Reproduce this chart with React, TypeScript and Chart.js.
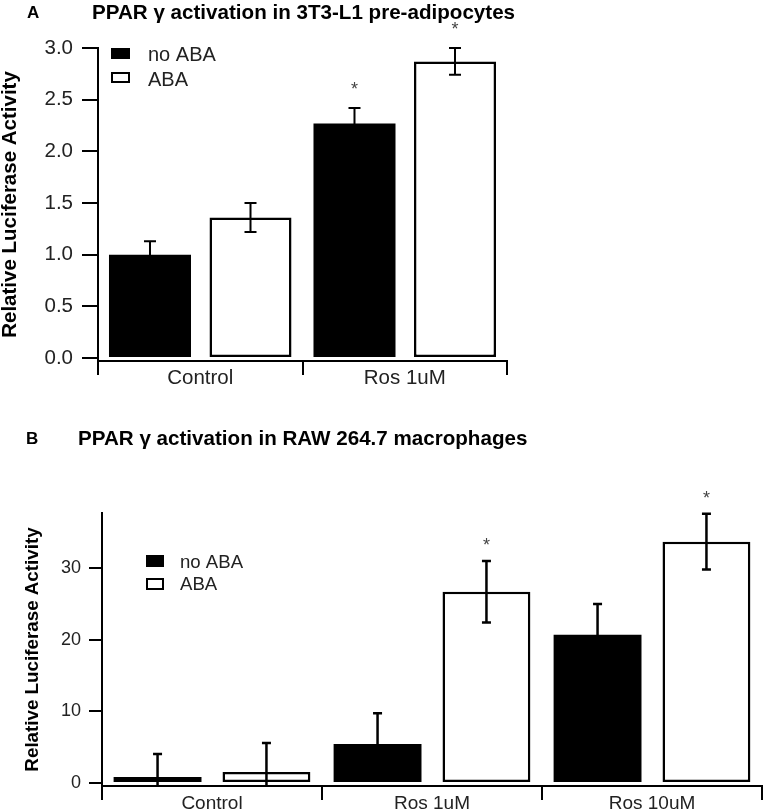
import React, { useEffect, useRef } from "react";
import { Chart, registerables } from "chart.js";

Chart.register(...registerables);

const FONT = "'Liberation Sans', Arial, Helvetica, sans-serif";

// ---------- Data: panel A (3T3-L1 pre-adipocytes) ----------
const seriesLabels = ["no ABA", "ABA"];
const categoriesA = ["Control", "Ros 1uM"];
const noAbaA = [1.0, 2.27];
const abaA = [1.36, 2.87];
const noAbaErrA = [0.13, 0.15];
const abaErrA = [0.14, 0.13];
const noAbaSigA = [false, true];
const abaSigA = [false, true];
const yTicksA = [0, 0.5, 1.0, 1.5, 2.0, 2.5, 3.0];

// ---------- Data: panel B (RAW 264.7 macrophages) ----------
const categoriesB = ["Control", "Ros 1uM", "Ros 10uM"];
const noAbaB = [0.84, 5.45, 20.7];
const abaB = [1.54, 26.7, 33.7];
const noAbaErrB = [3.2, 4.3, 4.3];
const abaErrB = [4.05, 4.3, 3.9];
const noAbaSigB = [false, false, false];
const abaSigB = [false, true, true];
const yTicksB = [0, 10, 20, 30];

const titleA = "PPAR \u03b3 activation in 3T3-L1 pre-adipocytes";
const titleB = "PPAR \u03b3 activation in RAW 264.7 macrophages";
const yTitle = "Relative Luciferase Activity";

type Panel = {
  letter: string;
  title: string;
  letterX: number;
  letterSize: number;
  titleX: number;
  titleY: number;
  titleSize: number;
  errors: number[][];
  sig: boolean[][];
  capWidth: number;
  errLineWidth: number;
  starOffset: number;
  starSize: number;
  legendBoxX: number;
  legendBoxW: number;
  legendBoxH: number;
  legendBoxTops: number[];
  legendTextX: number;
  legendTextYs: number[];
  legendSize: number;
};

function capText(ctx: CanvasRenderingContext2D, text: string, x: number, cy: number, size: number, weight: string, color: string) {
  ctx.font = `${weight} ${size}px ${FONT}`;
  ctx.fillStyle = color;
  ctx.textAlign = "left";
  ctx.textBaseline = "alphabetic";
  ctx.fillText(text, x, cy + (size * 0.716) / 2);
}

function makeOverlay(p: Panel) {
  return {
    id: "overlay",
    afterDatasetsDraw(chart: any) {
      const { ctx, chartArea } = chart;
      const yScale = chart.scales.y;
      ctx.save();
      ctx.beginPath();
      ctx.rect(0, 0, chart.width, chartArea.bottom);
      ctx.clip();
      ctx.strokeStyle = "#000";
      ctx.lineWidth = p.errLineWidth;
      ctx.lineCap = "butt";
      chart.data.datasets.forEach((ds: any, di: number) => {
        const meta = chart.getDatasetMeta(di);
        meta.data.forEach((bar: any, i: number) => {
          const v = ds.data[i];
          const e = p.errors[di][i];
          const x = bar.x;
          const yt = yScale.getPixelForValue(v + e);
          const yb = yScale.getPixelForValue(v - e);
          const h = p.capWidth / 2;
          ctx.beginPath();
          ctx.moveTo(x, yt);
          ctx.lineTo(x, yb);
          ctx.moveTo(x - h, yt);
          ctx.lineTo(x + h, yt);
          ctx.moveTo(x - h, yb);
          ctx.lineTo(x + h, yb);
          ctx.stroke();
        });
      });
      ctx.restore();

      ctx.save();
      ctx.fillStyle = "#444";
      ctx.font = `${p.starSize}px ${FONT}`;
      ctx.textAlign = "center";
      ctx.textBaseline = "alphabetic";
      chart.data.datasets.forEach((ds: any, di: number) => {
        const meta = chart.getDatasetMeta(di);
        meta.data.forEach((bar: any, i: number) => {
          if (!p.sig[di][i]) return;
          const yt = yScale.getPixelForValue(ds.data[i] + p.errors[di][i]);
          const cy = yt - p.starOffset;
          ctx.fillText("*", bar.x, cy + p.starSize * 0.57);
        });
      });
      ctx.restore();
    },
    afterDraw(chart: any) {
      const ctx: CanvasRenderingContext2D = chart.ctx;
      ctx.save();
      capText(ctx, p.letter, p.letterX, p.titleY, p.letterSize, "bold", "#000");
      capText(ctx, p.title, p.titleX, p.titleY, p.titleSize, "bold", "#000");
      chart.data.datasets.forEach((ds: any, di: number) => {
        const top = p.legendBoxTops[di];
        if (ds.backgroundColor === "#000") {
          ctx.fillStyle = "#000";
          ctx.fillRect(p.legendBoxX, top, p.legendBoxW, p.legendBoxH);
        } else {
          ctx.fillStyle = "#fff";
          ctx.fillRect(p.legendBoxX, top, p.legendBoxW, p.legendBoxH);
          ctx.strokeStyle = "#000";
          ctx.lineWidth = 2;
          ctx.strokeRect(p.legendBoxX + 1, top + 1, p.legendBoxW - 2, p.legendBoxH - 2);
        }
        capText(ctx, ds.label, p.legendTextX, p.legendTextYs[di], p.legendSize, "normal", "#222");
      });
      ctx.restore();
    },
  };
}

type AxisCfg = {
  min: number;
  max: number;
  ticks: number[];
  decimals: number;
  yWidth: number;
  xHeight: number;
  padding: { left: number; top: number; right: number; bottom: number };
  yTickLen: number;
  yTickPad: number;
  xTickLen: number;
  xTickPad: number;
  tickSize: number;
  catSize: number;
  yTitleSize: number;
  yTitlePad: number;
  catPct: number;
  barPct: number;
  lineWidth: number;
  barBorder: number;
};

function buildConfig(categories: string[], noAba: number[], aba: number[], a: AxisCfg, panel: Panel) {
  return {
    type: "bar",
    data: {
      labels: categories,
      datasets: [
        {
          label: seriesLabels[0],
          data: noAba,
          backgroundColor: "#000",
          borderColor: "#000",
          borderWidth: 0,
          categoryPercentage: a.catPct,
          barPercentage: a.barPct,
        },
        {
          label: seriesLabels[1],
          data: aba,
          backgroundColor: "#fff",
          borderColor: "#000",
          borderWidth: a.barBorder,
          borderSkipped: false,
          categoryPercentage: a.catPct,
          barPercentage: a.barPct,
        },
      ],
    },
    options: {
      animation: false,
      responsive: false,
      devicePixelRatio: 1,
      events: [],
      layout: { padding: a.padding },
      plugins: {
        legend: { display: false },
        title: { display: false },
        tooltip: { enabled: false },
      },
      scales: {
        x: {
          type: "category",
          afterFit: (s: any) => {
            s.height = a.xHeight;
          },
          grid: {
            display: true,
            drawOnChartArea: false,
            drawTicks: true,
            tickLength: a.xTickLen,
            lineWidth: a.lineWidth,
            color: "#000",
            offset: true,
          },
          border: { display: true, width: a.lineWidth, color: "#000" },
          ticks: {
            padding: a.xTickPad,
            color: "#222",
            maxRotation: 0,
            autoSkip: false,
            font: { family: FONT, size: a.catSize, lineHeight: 1 },
          },
        },
        y: {
          type: "linear",
          min: a.min,
          max: a.max,
          afterBuildTicks: (s: any) => {
            s.ticks = a.ticks.map((v) => ({ value: v }));
          },
          afterFit: (s: any) => {
            s.width = a.yWidth;
          },
          grid: {
            display: true,
            drawOnChartArea: false,
            drawTicks: true,
            tickLength: a.yTickLen,
            lineWidth: a.lineWidth,
            color: "#000",
          },
          border: { display: true, width: a.lineWidth, color: "#000" },
          ticks: {
            padding: a.yTickPad,
            color: "#222",
            font: { family: FONT, size: a.tickSize },
            callback: (v: any) => Number(v).toFixed(a.decimals),
          },
          title: {
            display: true,
            text: yTitle,
            color: "#000",
            font: { family: FONT, size: a.yTitleSize, weight: "bold", lineHeight: 1 },
            padding: { top: a.yTitlePad, bottom: 0 },
          },
        },
      },
    },
    plugins: [makeOverlay(panel)],
  };
}

const axisA: AxisCfg = {
  min: -0.029,
  max: 3.0,
  ticks: yTicksA,
  decimals: 1,
  yWidth: 98,
  xHeight: 39,
  padding: { left: 0, top: 48, right: 258, bottom: 0 },
  yTickLen: 16,
  yTickPad: 9,
  xTickLen: 14,
  xTickPad: -7,
  tickSize: 20.5,
  catSize: 20.5,
  yTitleSize: 20.5,
  yTitlePad: 0,
  catPct: 0.983,
  barPct: 0.816,
  lineWidth: 2,
  barBorder: 2.5,
};

const panelA: Panel = {
  letter: "A",
  title: titleA,
  letterX: 27,
  letterSize: 17,
  titleX: 92,
  titleY: 12,
  titleSize: 20.6,
  errors: [noAbaErrA, abaErrA],
  sig: [noAbaSigA, abaSigA],
  capWidth: 12,
  errLineWidth: 2,
  starOffset: 23,
  starSize: 18,
  legendBoxX: 111,
  legendBoxW: 19,
  legendBoxH: 11,
  legendBoxTops: [48, 72],
  legendTextX: 148,
  legendTextYs: [54, 79],
  legendSize: 20,
};

const axisB: AxisCfg = {
  min: -0.42,
  max: 37.7,
  ticks: yTicksB,
  decimals: 0,
  yWidth: 102,
  xHeight: 26,
  padding: { left: 0, top: 113, right: 3, bottom: 0 },
  yTickLen: 13,
  yTickPad: 8,
  xTickLen: 14,
  xTickPad: -6,
  tickSize: 18,
  catSize: 19,
  yTitleSize: 18.8,
  yTitlePad: 23.6,
  catPct: 0.99,
  barPct: 0.807,
  lineWidth: 2,
  barBorder: 2.5,
};

const panelB: Panel = {
  letter: "B",
  title: titleB,
  letterX: 26,
  letterSize: 17,
  titleX: 78,
  titleY: 38,
  titleSize: 20.6,
  errors: [noAbaErrB, abaErrB],
  sig: [noAbaSigB, abaSigB],
  capWidth: 9,
  errLineWidth: 2.5,
  starOffset: 20,
  starSize: 18,
  legendBoxX: 146,
  legendBoxW: 18,
  legendBoxH: 12,
  legendBoxTops: [155, 178],
  legendTextX: 180,
  legendTextYs: [161, 183],
  legendSize: 18.6,
};

export default function App() {
  const refA = useRef<HTMLCanvasElement | null>(null);
  const refB = useRef<HTMLCanvasElement | null>(null);

  useEffect(() => {
    const charts: Chart[] = [];
    if (refA.current) {
      charts.push(new Chart(refA.current, buildConfig(categoriesA, noAbaA, abaA, axisA, panelA) as any));
    }
    if (refB.current) {
      charts.push(new Chart(refB.current, buildConfig(categoriesB, noAbaB, abaB, axisB, panelB) as any));
    }
    return () => charts.forEach((c) => c.destroy());
  }, []);

  return (
    <div style={{ position: "absolute", left: 0, top: 0, width: 765, height: 812, background: "#fff", overflow: "hidden" }}>
      <canvas ref={refA} width={765} height={400} style={{ position: "absolute", left: 0, top: 0, width: 765, height: 400 }} />
      <canvas ref={refB} width={765} height={412} style={{ position: "absolute", left: 0, top: 400, width: 765, height: 412 }} />
    </div>
  );
}
